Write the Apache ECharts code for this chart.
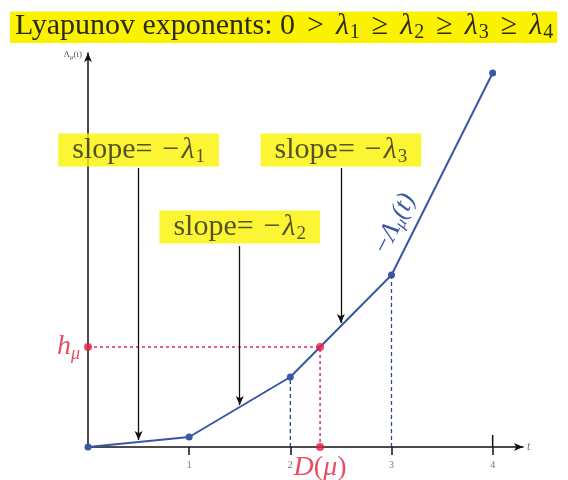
<!DOCTYPE html>
<html><head><meta charset="utf-8">
<script src="https://cdn.jsdelivr.net/npm/echarts@6/dist/echarts.min.js"></script>
<style>html,body{margin:0;padding:0;background:#fff}#chart{width:568px;height:480px}</style>
</head><body><div id="chart"></div>
<script>
// Integrated Lyapunov function Λμ(t) sampled at integer times
const times = [0, 1, 2, 3, 4];
const lambdaVals = [0, 0.10, 0.70, 1.72, 3.74];
// times whose values get a dashed drop line to the t axis
const dropTimes = [2, 3];
// entropy level h_mu
const entropy = 1.0;
// tick labels on the t axis
const xTicks = [1, 2, 3, 4];
// slope annotations: subscript, time of the arrow, box level, arrow start, arrow tip
const slopeSubs = ['1', '2', '3'];
const slopeAt = [0.5, 1.5, 2.5];
const slopeBoxY = [2.97, 2.20, 2.97];
const slopeFrom = [2.79, 2.01, 2.79];
const slopeTip = [0.07, 0.42, 1.24];

const SERIF = '"Liberation Serif", "DejaVu Serif", serif';
const BLUE = '#3a57a6';
const RED = '#e4213c';
const PINK = '#e0257a';
const YELLOW = '#fbf200';
const INK = '#2a2a22';

// where the curve crosses the entropy level (between t=2 and t=3)
const i2 = times.indexOf(2), i3 = times.indexOf(3);
const dimX = times[i2] + (entropy - lambdaVals[i2]) / (lambdaVals[i3] - lambdaVals[i2]) * (times[i3] - times[i2]);

const curve = times.map((t, i) => [t, lambdaVals[i]]);

const series = [];

// dashed drop lines at t = 2, 3
dropTimes.forEach(t => {
  const v = lambdaVals[times.indexOf(t)];
  series.push({
    type: 'line', data: [[t, 0], [t, v]], symbol: 'none', silent: true, z: 1,
    lineStyle: { color: '#2c4a8a', width: 1.3, type: [4, 3] }
  });
});

// entropy level and dimension guide lines
series.push({
  type: 'line', data: [[0, entropy], [dimX, entropy], [dimX, 0]], symbol: 'none', silent: true, z: 1,
  lineStyle: { color: PINK, width: 1.5, type: [3, 3] }
});

// the curve itself
series.push({
  type: 'line', data: curve, symbol: 'circle', symbolSize: 7, z: 3,
  itemStyle: { color: BLUE }, lineStyle: { color: BLUE, width: 2 }
});

// extra tick stub above the axis at t = 4
series.push({
  type: 'line', data: [[4, 0], [4, 0.12]], symbol: 'none', silent: true, z: 2,
  lineStyle: { color: '#111', width: 1.5 }
});

// red markers: h_mu on the vertical axis, crossing point, D(mu) on the t axis
series.push({
  type: 'scatter', symbolSize: 8, z: 4, itemStyle: { color: RED },
  data: [
    { value: [0, entropy], label: { show: true, position: 'left', distance: 4, formatter: '{i|h}{s|μ}' } },
    { value: [dimX, entropy] },
    { value: [dimX, 0], label: { show: true, position: 'bottom', distance: 3, formatter: '{i|D}{n|(}{i|μ}{n|)}' } }
  ],
  label: {
    color: RED, fontFamily: SERIF,
    rich: {
      i: { fontSize: 28, fontStyle: 'italic', color: RED, fontFamily: SERIF },
      n: { fontSize: 28, color: RED, fontFamily: SERIF },
      s: { fontSize: 18, fontStyle: 'italic', color: RED, fontFamily: SERIF, padding: [14, 0, 0, 0] }
    }
  }
});

// slope annotation arrows
series.push({
  type: 'line', data: [], symbol: 'none', silent: true,
  markLine: {
    silent: true, symbol: ['none', 'arrow'], symbolSize: [6, 9], animation: false,
    label: { show: false },
    lineStyle: { color: '#111', width: 1.3, type: 'solid' },
    data: slopeAt.map((x, i) => [{ coord: [x, slopeFrom[i]] }, { coord: [x, slopeTip[i]] }])
  }
});

// slope annotation boxes
series.push({
  type: 'scatter', symbolSize: 0, z: 6, silent: true,
  data: slopeAt.map((x, i) => ({ value: [x, slopeBoxY[i]], sub: slopeSubs[i] })),
  label: {
    show: true, position: 'inside',
    formatter: p => '{r|slope=}{m|−}{l|λ}{s|' + p.data.sub + '}',
    backgroundColor: YELLOW, padding: [1, 14, 0, 14],
    rich: {
      r: { fontSize: 30, fontFamily: SERIF, color: INK },
      m: { fontSize: 30, fontFamily: SERIF, color: INK, padding: [0, 2, 0, 10] },
      l: { fontSize: 30, fontFamily: SERIF, fontStyle: 'italic', color: INK },
      s: { fontSize: 19, fontFamily: SERIF, color: INK, padding: [13, 0, 0, 1] }
    }
  }
});

const chart = echarts.init(document.getElementById('chart'), null, { renderer: 'canvas' });

const titleRich = {
  r: { fontSize: 30, fontWeight: 'normal', fontFamily: SERIF, color: INK },
  o: { fontSize: 30, fontWeight: 'normal', fontFamily: SERIF, color: INK, padding: [0, 12, 0, 12] },
  l: { fontSize: 30, fontWeight: 'normal', fontFamily: SERIF, fontStyle: 'italic', color: INK },
  s: { fontSize: 20, fontWeight: 'normal', fontFamily: SERIF, color: INK, padding: [13, 0, 0, 1] }
};

chart.setOption({
  animation: false,
  backgroundColor: '#fff',
  title: {
    left: 10, top: 10, padding: [0, 4, 0, 5],
    backgroundColor: YELLOW,
    text: '{r|Lyapunov exponents: 0}{o|>}{l|λ}{s|1}{o|≥}{l|λ}{s|2}{o|≥}{l|λ}{s|3}{o|≥}{l|λ}{s|4}',
    textStyle: { fontWeight: 'normal', rich: titleRich }
  },
  grid: { left: 88, right: 45, top: 53, bottom: 33 },
  xAxis: {
    type: 'value', min: 0, max: 4.3,
    name: 't', nameLocation: 'end', nameGap: 4,
    nameTextStyle: { fontFamily: SERIF, fontStyle: 'italic', fontSize: 12, color: '#777', padding: [16, 0, 0, 0] },
    axisLine: { onZero: false, symbol: ['none', 'arrow'], symbolSize: [6, 9], lineStyle: { color: '#111', width: 1.5 } },
    axisTick: { show: true, customValues: xTicks, length: 8, lineStyle: { color: '#111', width: 1.5 } },
    axisLabel: { customValues: xTicks, margin: 13, fontSize: 10, fontFamily: SERIF, color: '#777' },
    splitLine: { show: false }
  },
  yAxis: {
    type: 'value', min: 0, max: 3.94,
    name: '{l|Λ}{s|μ}{l|(t)}', nameLocation: 'end', nameGap: -2,
    nameTextStyle: {
      align: 'right', verticalAlign: 'middle', padding: [0, 6, 0, 0],
      rich: {
        l: { fontSize: 9, fontFamily: SERIF, color: '#555' },
        s: { fontSize: 7, fontFamily: SERIF, fontStyle: 'italic', color: '#555', padding: [4, 0, 0, 0] }
      }
    },
    axisLine: { onZero: false, symbol: ['none', 'arrow'], symbolSize: [6, 9], lineStyle: { color: '#111', width: 1.5 } },
    axisTick: { show: false },
    axisLabel: { show: false },
    splitLine: { show: false }
  },
  series: series
});

// rotated curve label placed along the last segment
const a = chart.convertToPixel({ gridIndex: 0 }, curve[3]);
const b = chart.convertToPixel({ gridIndex: 0 }, curve[4]);
const dx = b[0] - a[0], dy = b[1] - a[1];
const len = Math.hypot(dx, dy);
const f = 0.21, off = 20;
const cx = a[0] + dx * f + (dy / len) * off;
const cy = a[1] + dy * f - (dx / len) * off;
chart.setOption({
  graphic: [{
    type: 'text', x: cx, y: cy, rotation: Math.atan2(-dy, dx), z: 10,
    style: {
      text: '{n|−}{i|Λ}{s|μ}{i|(t)}', align: 'center', verticalAlign: 'middle',
      rich: {
        n: { fontSize: 26, fontFamily: SERIF, fill: BLUE },
        i: { fontSize: 26, fontFamily: SERIF, fontStyle: 'italic', fill: BLUE },
        s: { fontSize: 17, fontFamily: SERIF, fontStyle: 'italic', fill: BLUE, padding: [12, 0, 0, 0] }
      }
    }
  }]
});
</script>
</body></html>
